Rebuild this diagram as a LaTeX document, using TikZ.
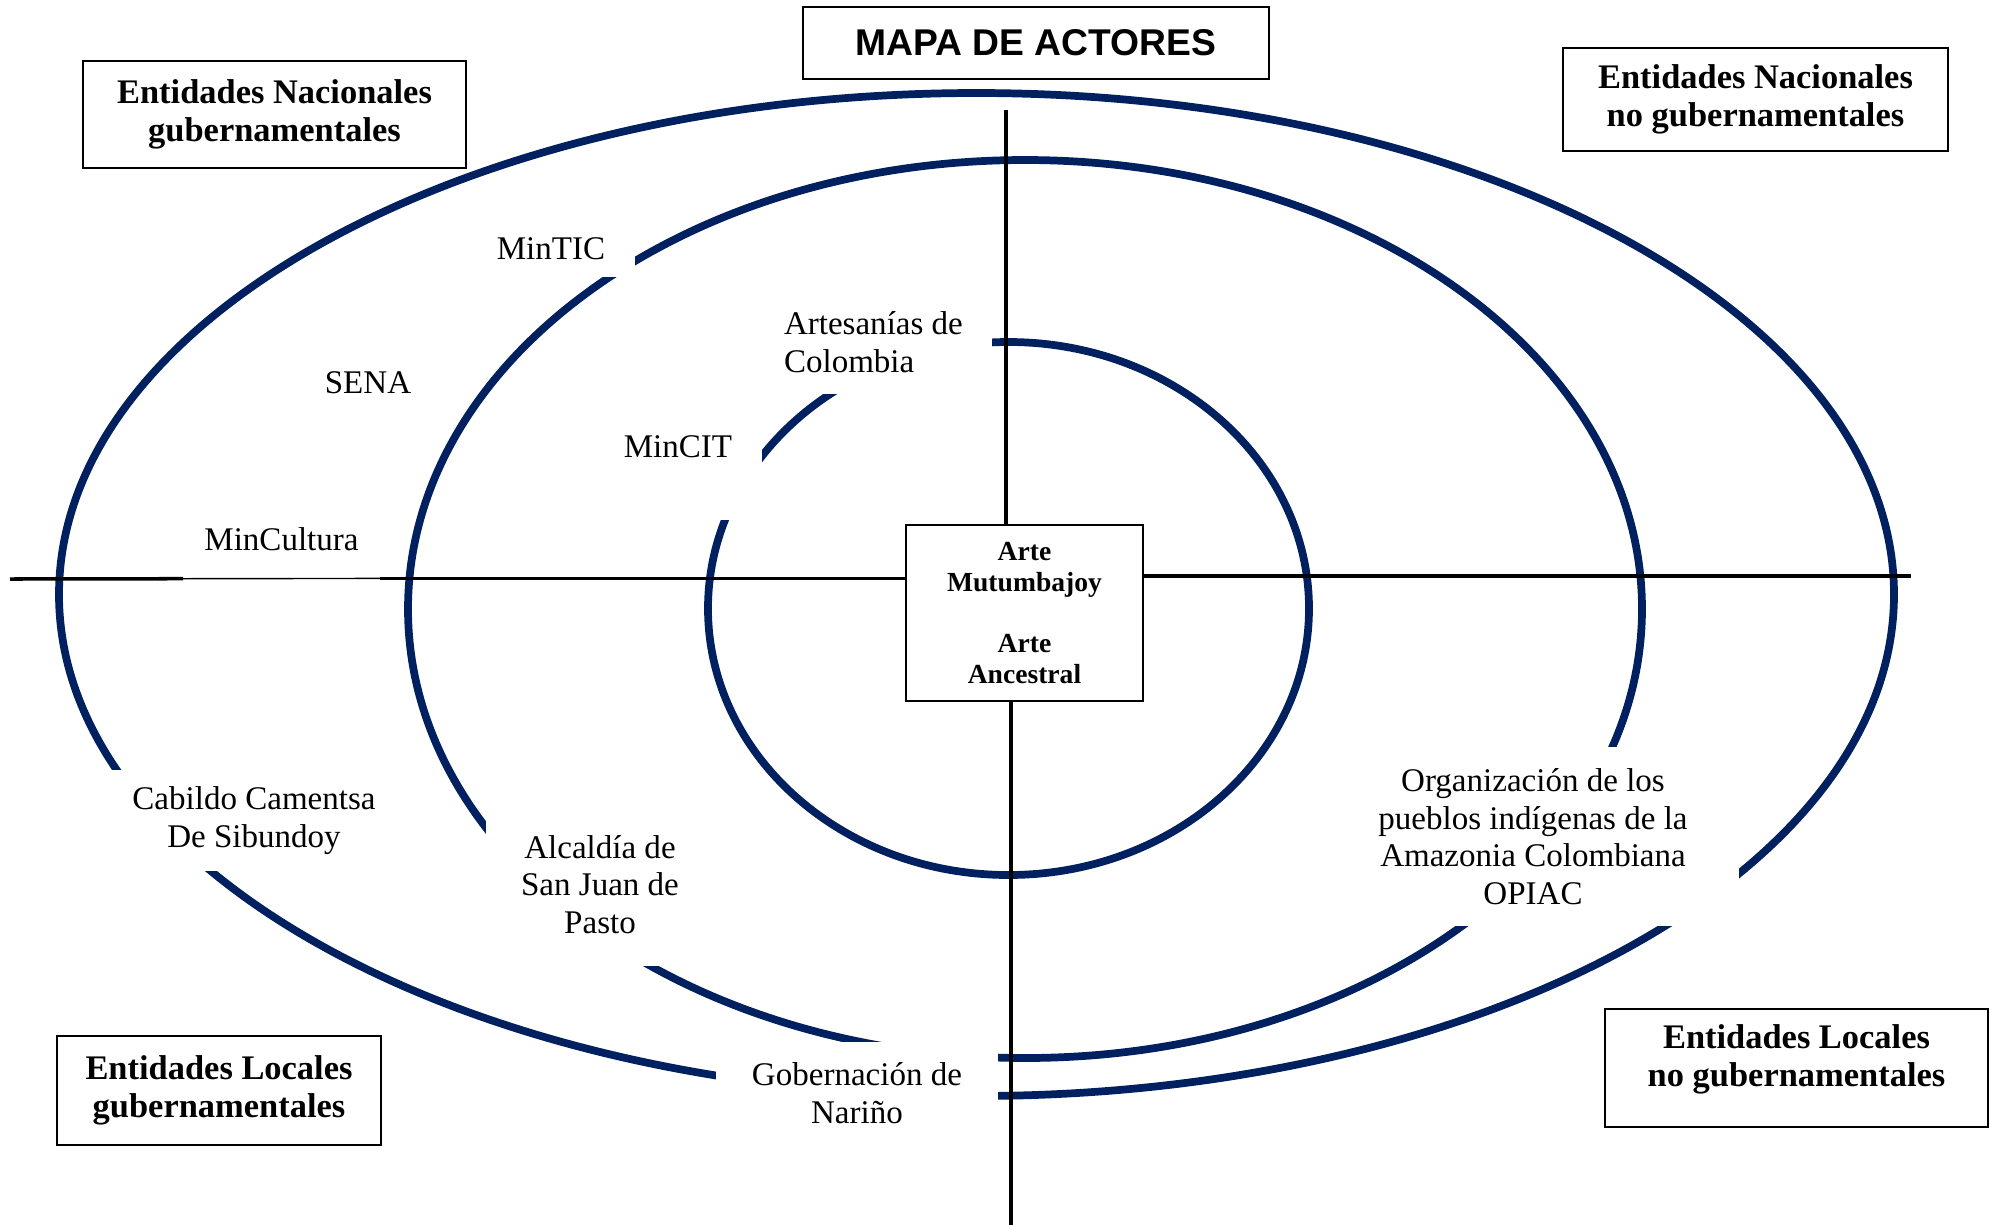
\documentclass[tikz,border=0pt]{standalone}
\usepackage{fontspec}
\setmainfont{Liberation Serif}
\newfontfamily\titlefont{Liberation Sans}
\definecolor{navy}{RGB}{0,32,96}
\begin{document}
\begin{tikzpicture}[x=0.1mm,y=-0.1mm,
  ring/.style={draw=navy,line width=2.2pt},
  axis/.style={draw=black,line width=1pt},
  frame/.style={draw=black,line width=0.6pt,fill=white,align=center,inner sep=0pt},
  cat/.style={frame,font=\fontsize{9.8}{10.8}\selectfont\bfseries},
  actor/.style={fill=white,inner sep=0pt,align=center,font=\fontsize{9.4}{10.7}\selectfont},
]
\useasboundingbox (0,0) rectangle (1990,1225);

% rings
\draw[ring] (976.5,594.5) ellipse [x radius=91.75mm, y radius=50.15mm];
\draw[ring] (1025,609) ellipse [x radius=61.7mm, y radius=44.9mm];
\draw[ring] (1008.5,608.5) ellipse [x radius=30.05mm, y radius=26.65mm];

% title and category boxes
\node[frame,minimum width=46.6mm,minimum height=7.2mm,
      font=\titlefont\bfseries\fontsize{10.6}{12}\selectfont] (title) at (1036,43) {MAPA DE ACTORES};
\node[cat,minimum width=38.3mm,minimum height=10.7mm] (ng) at (274.5,114.5) {Entidades Nacionales\\gubernamentales};
\node[cat,minimum width=38.5mm,minimum height=10.3mm] (nng) at (1755.5,99.5) {Entidades Nacionales\\no gubernamentales};
\node[cat,minimum width=32.4mm,minimum height=10.9mm] (lg) at (219,1090.5) {Entidades Locales\\gubernamentales};
\node[cat,minimum width=38.3mm,minimum height=11.8mm] (lng) at (1796.5,1068) {Entidades Locales\\no gubernamentales\rule[-2.5mm]{0pt}{0pt}};

% actors
\node[actor,minimum width=16.8mm,minimum height=5.6mm] (mintic) at (551,249) {MinTIC};
\node[actor] (sena) at (368,383) {SENA};
\node[actor,minimum width=22.2mm,minimum height=10.4mm,text width=19.4mm,align=flush left,inner xsep=1.4mm] (artes) at (881,342) {Artesanías de\\Colombia};
\node[actor,minimum width=16.8mm,minimum height=14.6mm] (mincit) at (678,447) {MinCIT};
\node[actor,minimum width=19.7mm,minimum height=6.9mm] (mincul) at (281.5,539.5) {MinCultura};
\node[actor,minimum width=30.8mm,minimum height=10.1mm] (cabildo) at (254,820.5) {Cabildo Camentsa\\De Sibundoy};
\node[actor,minimum width=22.8mm,minimum height=16.3mm] (alcaldia) at (600,884.5) {Alcaldía de\\San Juan de\\Pasto};
\node[actor,minimum width=41.2mm,minimum height=17.9mm] (opiac) at (1533,836.5) {Organización de los\\pueblos indígenas de la\\Amazonia Colombiana\\OPIAC};
\node[actor,minimum width=28.2mm,minimum height=10.2mm] (gob) at (857,1093) {Gobernación de\\Nariño};

% centre
\node[frame,minimum width=23.7mm,minimum height=17.6mm,
      font=\fontsize{7.85}{8.8}\selectfont\bfseries] (core) at (1024.5,613) {Arte\\Mutumbajoy\\[8.8pt]Arte\\Ancestral};

% axes
\coordinate (hL) at (10,579);
\coordinate (hA) at (183,578.7);
\coordinate (hB) at (380,578.4);
\coordinate (hR) at (1911,576);
\coordinate (vT) at (1006,110);
\coordinate (vB) at (1011,1225);
\draw[axis] (hL) -- (hA);
\draw[line width=0.4pt] (hA) -- (hB);
\draw[axis] (hB) -- (hB -| core.west);
\draw[axis] (hR -| core.east) -- (hR);
\draw[axis] (vT) -- (vT |- core.north);
\draw[axis] (vB |- core.south) -- (vB);
\end{tikzpicture}
\end{document}
